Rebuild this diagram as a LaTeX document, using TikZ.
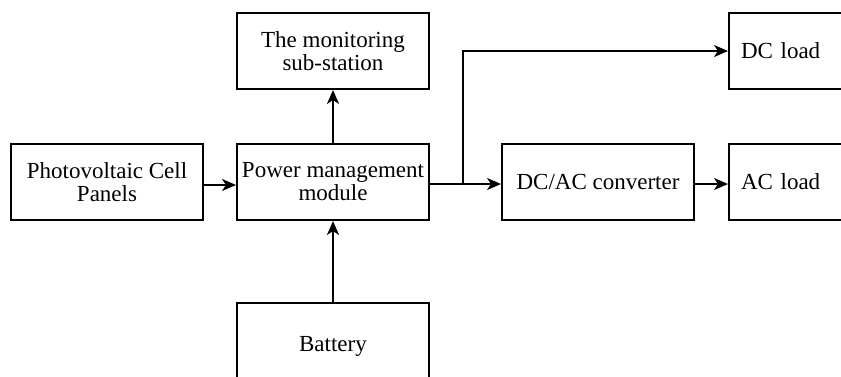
\documentclass[tikz,border=0pt]{standalone}
\usepackage{fontspec}
\setmainfont{Liberation Serif}
\usetikzlibrary{arrows.meta}
\begin{document}
\begin{tikzpicture}[x=1pt,y=-1pt,
  blk/.style={draw,line width=2pt,inner sep=0pt,align=center,
    font=\fontsize{23}{23}\selectfont},
  conn/.style={line width=2pt,-{Stealth[length=14pt,width=12pt,inset=4pt]}}]
\useasboundingbox (0,0) rectangle (841,376);
\node[blk,minimum width=192pt,minimum height=76pt] (mon) at (333,51) {The monitoring\\sub-station};
\node[blk,minimum width=192pt,minimum height=76pt] (pv) at (107,182) {Photovoltaic Cell\\Panels};
\node[blk,minimum width=192pt,minimum height=76pt] (pm) at (333,182) {Power management\\module};
\node[blk,minimum width=192pt,minimum height=76pt] (conv) at (598,182) {DC/AC converter};
\node[blk,minimum width=130pt,minimum height=76pt,text width=114pt,align=left] (dcl) at (794,51) {\hspace*{4pt}DC load};
\node[blk,minimum width=130pt,minimum height=76pt,text width=114pt,align=left] (acl) at (794,182) {\hspace*{4pt}AC load};
\node[blk,minimum width=192pt,minimum height=110pt] (bat) at (333,358) {};
\node[font=\fontsize{23}{23}\selectfont] (battxt) at (333,346) {Battery};
\coordinate (br) at (463,184);
\draw[conn] (pm.north) -- (mon.south);
\draw[conn] (pv.east |- 0,185) -- (pm.west |- 0,185);
\draw[conn] (bat.north) -- (pm.south);
\draw[conn] (pm.east |- br) -- (conv.west |- br);
\draw[conn] (br) |- (dcl.west);
\draw[conn] (conv.east |- br) -- (acl.west |- br);
\end{tikzpicture}
\end{document}
